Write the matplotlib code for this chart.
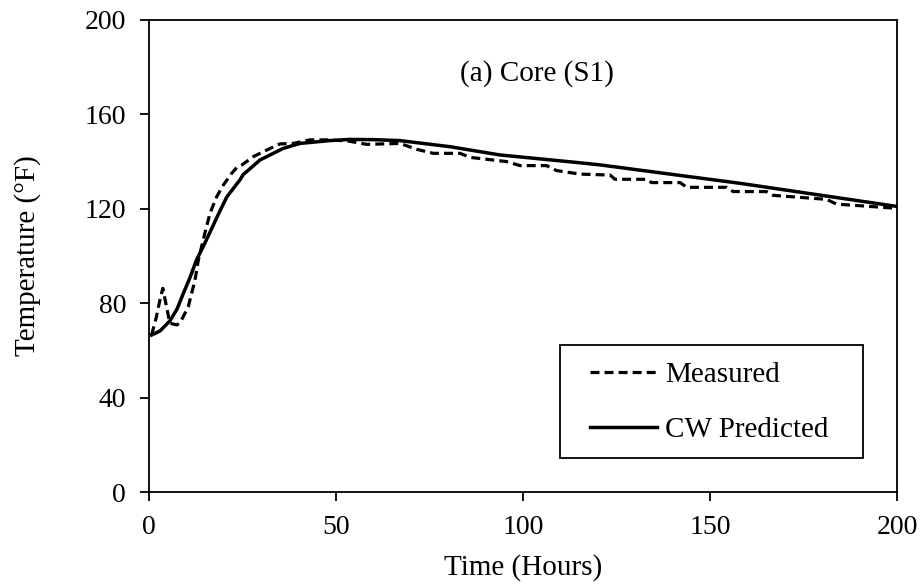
"""
Core (S1) temperature history: measured vs ConcreteWorks (CW) prediction.
Output: out.png (923x586)
"""
import matplotlib; matplotlib.use("Agg")
import matplotlib.pyplot as plt
from matplotlib.patches import Rectangle

# measured thermocouple record (hours, degF)
meas_h = [0.7, 2.0, 3.0, 3.7, 4.7, 5.6, 7.4, 8.3, 10.5, 12.3, 13.2, 15.0, 16.3, 18.1,
          19.9, 22.1, 23.5, 24.8, 27.9, 31.5, 35.0, 38.6, 43.0, 47.5, 53.0, 58.2, 67.1,
          71.6, 76.0, 83.2, 85.8, 95.6, 99.2, 106.3, 109.0, 115.2, 123.3, 124.6, 133.0,
          134.4, 142.0, 143.8, 154.5, 156.2, 165.1, 166.9, 181.2, 183.8, 199.9]
meas_T = [66.5, 74.3, 82.0, 86.3, 78.5, 71.5, 70.8, 71.6, 78.5, 89.8, 98.3, 110.0, 118.0, 125.1,
          130.1, 135.0, 137.5, 138.5, 142.1, 144.9, 147.5, 147.7, 149.2, 149.2, 148.8, 147.3, 147.7,
          145.2, 143.5, 143.5, 141.8, 140.0, 138.3, 138.3, 136.2, 134.7, 134.3, 132.5, 132.5,
          131.1, 131.1, 129.1, 129.1, 127.3, 127.3, 125.7, 124.0, 122.0, 120.2]

# CW predicted
cw_h = [0.7, 3.0, 5.6, 7.5, 9.2, 11.0, 12.7, 14.5, 16.3, 18.5, 20.8, 24.3, 25.2, 29.7, 35.9,
        40.4, 48.4, 53.7, 60.0, 67.1, 80.5, 93.9, 115.2, 120.6, 158.0, 200.0]
cw_T = [66.5, 68.3, 72.5, 77.5, 84.2, 91.0, 98.3, 104.0, 110.0, 117.5, 125.0, 132.2, 134.5, 140.7, 145.6,
        147.7, 148.9, 149.4, 149.3, 148.9, 146.3, 142.8, 139.5, 138.6, 130.8, 121.0]

plt.rcParams["font.family"] = ["Liberation Serif", "DejaVu Serif"]

fig = plt.figure(figsize=(9.23, 5.86), dpi=100)
ax = fig.add_axes([0.1614, 0.1604, 0.8104, 0.8055])

ax.plot(meas_h, meas_T, color="black", lw=2.3, ls=(0, (2.8, 1.6)), label="Measured")
ax.plot(cw_h, cw_T, color="black", lw=2.5, label="CW Predicted")

ax.set_xlim(0, 200); ax.set_ylim(0, 200)
ax.set_xticks([0, 50, 100, 150, 200]); ax.set_yticks([0, 40, 80, 120, 160, 200])
ax.tick_params(direction="out", length=6.5, width=1.3, labelsize=20, pad=10, color="black")
for s in ax.spines.values():
    s.set_linewidth(1.3)

ax.set_xlabel("Time (Hours)", fontsize=21, labelpad=10)
ax.set_ylabel("Temperature (°F)", fontsize=21, labelpad=31)
ax.text(103.7, 177.5, "(a) Core (S1)", fontsize=21, ha="center", va="center")

# legend box drawn separately so the padding can match the original
ax.add_patch(Rectangle((0.549, 0.072), 0.406, 0.239, transform=ax.transAxes,
                       fill=False, edgecolor="black", lw=1.3, zorder=4))
ax.legend(loc="center", bbox_to_anchor=(0.749, 0.19), fontsize=21, frameon=False,
          handlelength=2.3, handletextpad=0.3, labelspacing=1.0, borderpad=0, borderaxespad=0)

fig.savefig("out.png", dpi=100)
